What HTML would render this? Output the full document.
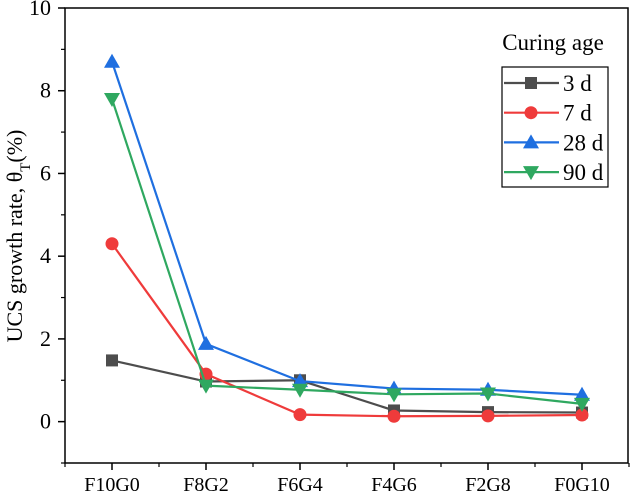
<!DOCTYPE html>
<html><head><meta charset="utf-8"><style>
html,body{margin:0;padding:0;background:#fff;}
svg{display:block;font-family:"Liberation Serif",serif;}
</style></head><body>
<svg id="chart" width="631" height="494" viewBox="0 0 631 494"></svg>
<script>
const categories=["F10G0","F8G2","F6G4","F4G6","F2G8","F0G10"];
const yTicks=[0,2,4,6,8,10];
const series3d=[1.48,0.97,1.0,0.27,0.23,0.22];
const series7d=[4.3,1.15,0.17,0.13,0.14,0.16];
const series28d=[8.7,1.88,0.98,0.8,0.77,0.65];
const series90d=[7.8,0.87,0.77,0.66,0.68,0.43];
const seriesNames=["3 d","7 d","28 d","90 d"];

const NS="http://www.w3.org/2000/svg";
const svg=document.getElementById('chart');
const L=65,R=628,T=8,B=463,yMin=-1,yMax=10;
function xs(i){return 112+i*94;}
function ys(v){return B-(v-yMin)/(yMax-yMin)*(B-T);}
function mk(tag,attrs,parent){const e=document.createElementNS(NS,tag);for(const k in attrs)e.setAttribute(k,attrs[k]);(parent||svg).appendChild(e);return e;}

const frame=mk('rect',{x:L,y:T,width:R-L,height:B-T,fill:'none',stroke:'#000','stroke-width':1.5});



yTicks.forEach(v=>{
  const t=mk('line',{x1:L-7,x2:L,y1:ys(v),y2:ys(v),stroke:'#000','stroke-width':1.5});
  
  
  const m=mk('line',{x1:L-4,x2:L,y1:ys(v-1),y2:ys(v-1),stroke:'#000','stroke-width':1.2});
  
  
  const tx=mk('text',{x:L-14,y:ys(v)+7,'text-anchor':'end','font-size':22});
  tx.textContent=v;
  
  
});
categories.forEach((c,i)=>{
  const t=mk('line',{x1:xs(i),x2:xs(i),y1:B,y2:B+7,stroke:'#000','stroke-width':1.5});
  
  
  const m=mk('line',{x1:xs(i)-47,x2:xs(i)-47,y1:B,y2:B+4,stroke:'#000','stroke-width':1.2});
  
  
  const tx=mk('text',{x:xs(i),y:491,'text-anchor':'middle','font-size':20});
  tx.textContent=c;
  
  
});
const m2=mk('line',{x1:xs(5)+47,x2:xs(5)+47,y1:B,y2:B+4,stroke:'#000','stroke-width':1.2});



const yl=mk('text',{transform:'translate(22,236) rotate(-90)','text-anchor':'middle','font-size':22});


yl.innerHTML='UCS growth rate, θ<tspan baseline-shift="sub" font-size="15">T</tspan>(%)';

const colors=["#4d4d4d","#ef3b3b","#1f6fe0","#2fa860"];
const shapes=["square","circle","up","down"];
const allSeries=[series3d,series7d,series28d,series90d];
function marker(shape,x,y,c,g){
  let e;
  if(shape==='square')e=mk('rect',{x:x-6,y:y-6,width:12,height:12,fill:c},g);
  else if(shape==='circle')e=mk('circle',{cx:x,cy:y,r:6.5,fill:c},g);
  else if(shape==='up')e=mk('polygon',{points:`${x},${y-8} ${x-8},${y+6} ${x+8},${y+6}`,fill:c},g);
  else e=mk('polygon',{points:`${x},${y+8} ${x-8},${y-6} ${x+8},${y-6}`,fill:c},g);
  return e;
}
allSeries.forEach((s,k)=>{
  const g=mk('g',{});
  
  
  const l=mk('polyline',{points:s.map((v,i)=>xs(i)+','+ys(v)).join(' '),fill:'none',stroke:colors[k],'stroke-width':2.2},g);
  
  
  s.forEach((v,i)=>{
    const p=marker(shapes[k],xs(i),ys(v),colors[k],g);
    
    
  });
});

const lt=mk('text',{x:553,y:50,'text-anchor':'middle','font-size':23});
lt.textContent='Curing age';


const lb=mk('rect',{x:502,y:67,width:106,height:120,fill:'#fff',stroke:'#000','stroke-width':1.2});


seriesNames.forEach((n,k)=>{
  const y=83+k*29.7;
  const g=mk('g',{});
  
  
  mk('line',{x1:504,x2:559,y1:y,y2:y,stroke:colors[k],'stroke-width':2.2},g);
  marker(shapes[k],531,y,colors[k],g);
  const t=mk('text',{x:563,y:y+8,'font-size':23},g);
  t.textContent=n;
});
</script>
</body></html>
